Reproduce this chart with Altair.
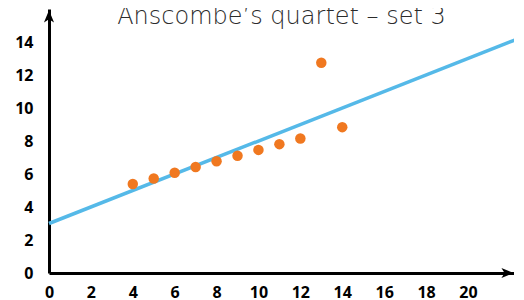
import altair as alt
import pandas as pd

# Anscombe's quartet, set 3
x_vals = [10, 8, 13, 9, 11, 14, 6, 4, 12, 7, 5]
y_vals = [7.46, 6.77, 12.74, 7.11, 7.81, 8.84, 6.08, 5.39, 8.15, 6.42, 5.73]

# regression line y = 3.00 + 0.50 x, drawn between these x values
line_x = [0, 22.3]
line_y = [3.0, 14.15]

x_ticks = [0, 2, 4, 6, 8, 10, 12, 14, 16, 18, 20]
y_ticks = [0, 2, 4, 6, 8, 10, 12, 14]

x_domain = [0, 22.2]
y_domain = [0, 16]

# arrow heads at the ends of the axes
arrow_x = [0, 21.85]
arrow_y = [15.5, 0]
arrow_dir = ["up", "right"]

title_text = "Anscombe\u2019s quartet \u2013 set 3"
title_anchor_x = [11.1]
title_anchor_y = [15.1]

pts = pd.DataFrame({"x": x_vals, "y": y_vals})
ln = pd.DataFrame({"x": [line_x[0]], "y": [line_y[0]],
                   "x2": [line_x[1]], "y2": [line_y[1]]})
arr = pd.DataFrame({"x": arrow_x, "y": arrow_y, "s": arrow_dir})
ttl = pd.DataFrame({"x": title_anchor_x, "y": title_anchor_y, "t": [title_text]})

TFONT = "DejaVu Sans"
LFONT = "Open Sans"

xs = alt.Scale(domain=x_domain, nice=False, zero=False)
ys = alt.Scale(domain=y_domain, nice=False, zero=False)

xaxis = alt.Axis(values=x_ticks, title=None, grid=False, ticks=False,
                 domainColor="black", domainWidth=3, labelFont=LFONT,
                 labelFontSize=16, labelFontWeight=700, labelColor="black",
                 labelPadding=11, labelFlush=False, labelOverlap=False)
yaxis = alt.Axis(values=y_ticks, title=None, grid=False, ticks=False,
                 domainColor="black", domainWidth=3, labelFont=LFONT,
                 labelFontSize=16, labelFontWeight=700, labelColor="black",
                 labelPadding=16, labelOverlap=False, labelFlush=False)

X = alt.X("x:Q", scale=xs, axis=xaxis)
Y = alt.Y("y:Q", scale=ys, axis=yaxis)

up_shape = "M0,-1 L0.72,0.75 L0,0.3 L-0.72,0.75 Z"
right_shape = "M1,0 L-0.75,0.72 L-0.3,0 L-0.75,-0.72 Z"

arrows = alt.Chart(arr).mark_point(filled=True, color="black", size=196, opacity=1).encode(
    x=X, y=Y,
    shape=alt.Shape("s:N", scale=alt.Scale(domain=["up", "right"],
                                           range=[up_shape, right_shape]),
                    legend=None),
)

line = alt.Chart(ln).mark_rule(color="#55b9e8", strokeWidth=3.5).encode(
    x=X, y=Y, x2="x2:Q", y2="y2:Q")

points = alt.Chart(pts).mark_circle(color="#f07820", opacity=1, size=110).encode(x=X, y=Y)

title = alt.Chart(ttl).mark_text(
    font=TFONT, fontSize=24, fontWeight=200, color="#2b2b2b",
    align="center", baseline="alphabetic",
).encode(text="t:N", x=X, y=Y)

chart = alt.layer(arrows, line, points, title).properties(
    width=465, height=264,
    autosize=alt.AutoSizeParams(type="none"),
    padding={"left": 41, "top": 1, "right": 0, "bottom": 27},
).configure_view(stroke=None)

chart.save("out.html", embed_options={"renderer": "svg", "actions": False})
